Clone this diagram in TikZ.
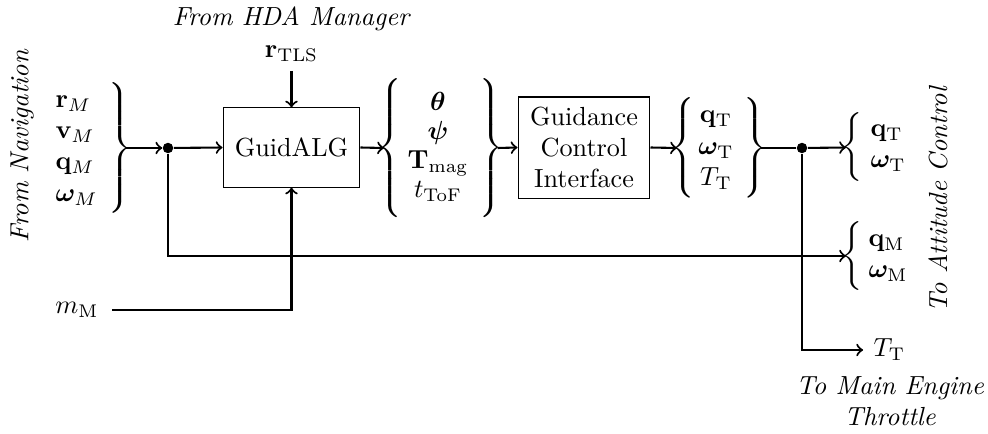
\documentclass[tikz,border=0pt]{standalone}
\usepackage{amsmath,bm,graphicx}
\usetikzlibrary{calc}
\delimiterfactor=1000
\delimitershortfall=0pt
\nulldelimiterspace=0pt
\newcommand{\LBr}[1]{\resizebox*{\width}{#1}{$\left\{\vcenter{\hbox{\rule{0pt}{#1}}}\right.$}}
\newcommand{\RBr}[1]{\resizebox*{\width}{#1}{$\left.\vcenter{\hbox{\rule{0pt}{#1}}}\right\}$}}
\tikzset{
  x=0.382pt, y=-0.382pt,
  conn/.style={thick,->},
  wire/.style={thick},
  blk/.style={draw, thin, inner sep=0pt, align=center},
  lbl/.style={inner sep=0pt},
  brc/.style={inner sep=0pt, outer sep=0pt},
  jdot/.style={circle, fill, inner sep=0pt, minimum size=4pt},
}
\begin{document}
\begin{tikzpicture}
\useasboundingbox (0,0) rectangle (988,433);
% left inputs
\node[lbl, rotate=90, font=\itshape] (fnav) at (22,146) {From Navigation};
\node[lbl, anchor=west] (inM) at (55,148) {$\begin{array}{@{}l@{}}\mathbf{r}_M\\ \mathbf{v}_M\\ \mathbf{q}_M\\ \boldsymbol{\omega}_M\end{array}$};
\node[brc] (b1) at (120,148) {\RBr{50pt}};
\coordinate (b1t) at ($(b1.center)+(6,0)$);
\node[jdot] (d1) at (168,148) {};
% GuidALG
\node[blk, minimum width=52.3pt, minimum height=30.2pt] (guid) at (291.5,147.5) {GuidALG};
\node[lbl, font=\itshape] (hda) at (291,19) {From HDA Manager};
\node[lbl, outer sep=3.5pt] (rtls) at (291.5,54) {$\mathbf{r}_{\mathrm{TLS}}$};
\node[lbl] (mm) at (77,310) {$m_{\mathrm{M}}$};
% middle outputs
\node[brc] (b2) at (390,148) {\LBr{53pt}};
\coordinate (b2t) at ($(b2.center)+(-6,0)$);
\node[lbl] (mid) at (438,148) {\def\arraystretch{0.93}$\begin{array}{c}\boldsymbol{\theta}\\ \boldsymbol{\psi}\\ \mathbf{T}_{\mathrm{mag}}\\ t_{\mathrm{ToF}}\end{array}$};
\node[brc] (b3) at (491.5,148) {\RBr{53pt}};
\coordinate (b3t) at ($(b3.center)+(6,0)$);
% interface
\node[blk, minimum width=50.4pt, minimum height=38.6pt] (gci) at (584,147.5) {Guidance\\Control\\Interface};
\node[brc] (b4) at (683,148) {\LBr{38.5pt}};
\coordinate (b4t) at ($(b4.center)+(-6,0)$);
\node[lbl] (out) at (716,148) {$\begin{array}{c}\mathbf{q}_{\mathrm{T}}\\ \boldsymbol{\omega}_{\mathrm{T}}\\ T_{\mathrm{T}}\end{array}$};
\node[brc] (b5) at (755,148) {\RBr{38.5pt}};
\coordinate (b5t) at ($(b5.center)+(6,0)$);
\node[jdot] (d2) at (802,148) {};
% right outputs
\node[brc] (b6) at (852,147.5) {\LBr{26.3pt}};
\coordinate (b6t) at ($(b6.center)+(-6,0)$);
\node[lbl, anchor=west] (att1) at (870,146) {$\begin{array}{@{}l@{}}\mathbf{q}_{\mathrm{T}}\\ \boldsymbol{\omega}_{\mathrm{T}}\end{array}$};
\node[brc] (b7) at (852,256) {\LBr{26.3pt}};
\coordinate (b7t) at ($(b7.center)+(-6,0)$);
\node[lbl, anchor=west] (att2) at (868,256) {$\begin{array}{@{}l@{}}\mathbf{q}_{\mathrm{M}}\\ \boldsymbol{\omega}_{\mathrm{M}}\end{array}$};
\node[lbl, rotate=90, font=\itshape] (toatt) at (938,200) {To Attitude Control};
\node[lbl, anchor=west] (tt) at (873,350) {$T_{\mathrm{T}}$};
\node[lbl, font=\itshape, align=center] (tme) at (890,401) {To Main Engine\\Throttle};
% connectors
\draw[conn] (b1t) -- (d1);
\draw[conn] (d1) -- (guid.west);
\draw[conn] (d1) |- (b7t);
\draw[conn] (rtls) -- (guid.north);
\draw[conn] ([xshift=5pt]mm.east) -| (guid.south);
\draw[conn] (guid.east) -- (b2t);
\draw[conn] (b3t) -- (gci.west);
\draw[conn] (gci.east) -- (b4t);
\draw[wire] (b5t) -- (d2);
\draw[conn] (d2) -- (b6t);
\draw[conn] (d2) |- ([xshift=-3.8pt]tt.west);
\end{tikzpicture}
\end{document}
